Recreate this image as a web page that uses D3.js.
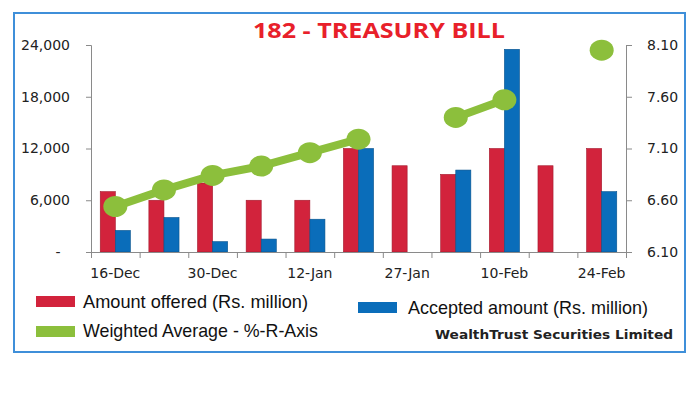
<!DOCTYPE html>
<html>
<head>
<meta charset="utf-8">
<script src="https://cdn.jsdelivr.net/npm/d3@7"></script>
<style>
  html, body { margin: 0; padding: 0; background: #fff; }
  svg { display: block; }
</style>
</head>
<body>
<svg id="chart" width="700" height="400"></svg>
<script>
const categories = ["16-Dec","23-Dec","30-Dec","6-Jan","12-Jan","20-Jan","27-Jan","3-Feb","10-Feb","17-Feb","24-Feb"];
const shownLabels = ["16-Dec","30-Dec","12-Jan","27-Jan","10-Feb","24-Feb"];
const amountOffered = [7000, 6000, 8000, 6000, 6000, 12000, 10000, 9000, 12000, 10000, 12000];
const acceptedAmount = [2500, 4000, 1200, 1500, 3800, 12000, null, 9500, 23500, null, 7000];
const weightedAverage = [6.54, 6.70, 6.84, 6.93, 7.06, 7.19, null, 7.40, 7.57, null, 8.05];
const leftTicks = [0, 6000, 12000, 18000, 24000];
const rightTicks = [6.10, 6.60, 7.10, 7.60, 8.10];

const colors = { offered: "#d2233c", accepted: "#0a6dba", avg: "#8cbf3c", axis: "#8a8a8a", border: "#3f8fd9" };

const svg = d3.select("#chart");

// border
svg.append("rect").attr("x", 14).attr("y", 13).attr("width", 671).attr("height", 339)
  .attr("fill", "none").attr("stroke", colors.border).attr("stroke-width", 2);

const plot = { left: 91, right: 626, top: 45, bottom: 252 };

const x0 = d3.scaleBand().domain(categories).range([plot.left, plot.right])
  .paddingInner(0.38).paddingOuter(0.19);
const x1 = d3.scaleBand().domain(["offered", "accepted"]).range([0, x0.bandwidth()]);
const yL = d3.scaleLinear().domain([0, 24000]).range([plot.bottom, plot.top]);
const yR = d3.scaleLinear().domain([6.10, 8.10]).range([plot.bottom, plot.top]);
const xb = d3.scaleLinear().domain([0, categories.length]).range([plot.left, plot.right]);

// title
svg.append("text").attr("x", 379).attr("y", 38).attr("text-anchor", "middle")
  .attr("font-family", "'Open Sans', sans-serif").attr("font-weight", "bold")
  .attr("font-size", 22).attr("fill", "#e8202a")
  .attr("textLength", 252).attr("lengthAdjust", "spacingAndGlyphs")
  .text("182 - TREASURY BILL");

// bars
const g = svg.append("g");
categories.forEach((c, i) => {
  const vals = [["offered", amountOffered[i]], ["accepted", acceptedAmount[i]]];
  vals.forEach(([k, v]) => {
    if (v == null) return;
    g.append("rect")
      .attr("x", x0(c) + x1(k)).attr("y", yL(v))
      .attr("width", x1.bandwidth()).attr("height", yL(0) - yL(v))
      .attr("fill", colors[k])
      .attr("stroke", k === "offered" ? "#a3182c" : "#07528c").attr("stroke-width", 0.6);
  });
});

// left axis
const axL = svg.append("g").attr("transform", `translate(${plot.left},0)`)
  .call(d3.axisLeft(yL).tickValues(leftTicks).tickSize(5).tickPadding(16)
    .tickFormat(d => d === 0 ? "-" : d3.format(",")(d)));
axL.select(".domain").attr("stroke", colors.axis);
axL.selectAll(".tick line").attr("stroke", colors.axis);
axL.selectAll(".tick text").attr("font-family", "'DejaVu Sans', Verdana, sans-serif")
  .attr("font-size", 14).attr("fill", "#222");
axL.selectAll(".tick text").filter(d => d === 0).attr("text-anchor", "middle").attr("x", -33);

// right axis
const axR = svg.append("g").attr("transform", `translate(${plot.right},0)`)
  .call(d3.axisRight(yR).tickValues(rightTicks).tickSize(6).tickPadding(15)
    .tickFormat(d3.format(".2f")));
axR.select(".domain").attr("stroke", colors.axis);
axR.selectAll(".tick line").attr("stroke", colors.axis);
axR.selectAll(".tick text").attr("font-family", "'DejaVu Sans', Verdana, sans-serif")
  .attr("font-size", 14).attr("fill", "#222");

// bottom axis: boundary ticks
const axB = svg.append("g").attr("transform", `translate(0,${plot.bottom})`)
  .call(d3.axisBottom(xb).tickValues(d3.range(categories.length + 1)).tickSize(6).tickFormat(""));
axB.select(".domain").attr("stroke", colors.axis);
axB.selectAll(".tick line").attr("stroke", colors.axis);

// category labels
const axC = svg.append("g").attr("transform", `translate(0,${plot.bottom})`)
  .call(d3.axisBottom(x0).tickSize(0).tickPadding(16)
    .tickFormat(d => shownLabels.includes(d) ? d : ""));
axC.select(".domain").remove();
axC.selectAll(".tick text").attr("font-family", "'DejaVu Sans', Verdana, sans-serif")
  .attr("font-size", 14).attr("fill", "#222");

// weighted average line
const cx = c => x0(c) + x0.bandwidth() / 2;
const avgData = categories.map((c, i) => ({ c, v: weightedAverage[i] }));
const line = d3.line().defined(d => d.v != null).x(d => cx(d.c)).y(d => yR(d.v));
svg.append("path").datum(avgData).attr("d", line)
  .attr("fill", "none").attr("stroke", colors.avg).attr("stroke-width", 8);
svg.append("g").selectAll("ellipse").data(avgData.filter(d => d.v != null)).join("ellipse")
  .attr("cx", d => cx(d.c)).attr("cy", d => yR(d.v))
  .attr("rx", 12).attr("ry", 10.5).attr("fill", colors.avg);

// legend
const legend = [
  { label: "Amount offered (Rs. million)", color: colors.offered, x: 36, y: 296, tx: 83, ty: 308, w: 225 },
  { label: "Weighted Average - %-R-Axis", color: colors.avg, x: 36, y: 326, tx: 83, ty: 337, w: 235 },
  { label: "Accepted amount (Rs. million)", color: colors.accepted, x: 358, y: 302, tx: 408, ty: 314, w: 240 }
];
legend.forEach(l => {
  svg.append("rect").attr("x", l.x).attr("y", l.y).attr("width", 39).attr("height", 11).attr("fill", l.color);
  svg.append("text").attr("x", l.tx).attr("y", l.ty)
    .attr("font-family", "'Liberation Sans Narrow', 'Arial Narrow', 'Liberation Sans', sans-serif")
    .attr("font-size", 19).attr("fill", "#111")
    .attr("textLength", l.w).attr("lengthAdjust", "spacingAndGlyphs")
    .text(l.label);
});

svg.append("text").attr("x", 435).attr("y", 339)
  .attr("font-family", "'DejaVu Sans', Verdana, sans-serif").attr("font-weight", "bold")
  .attr("font-size", 13).attr("fill", "#222")
  .attr("textLength", 238).attr("lengthAdjust", "spacingAndGlyphs")
  .text("WealthTrust Securities Limited");
</script>
</body>
</html>
